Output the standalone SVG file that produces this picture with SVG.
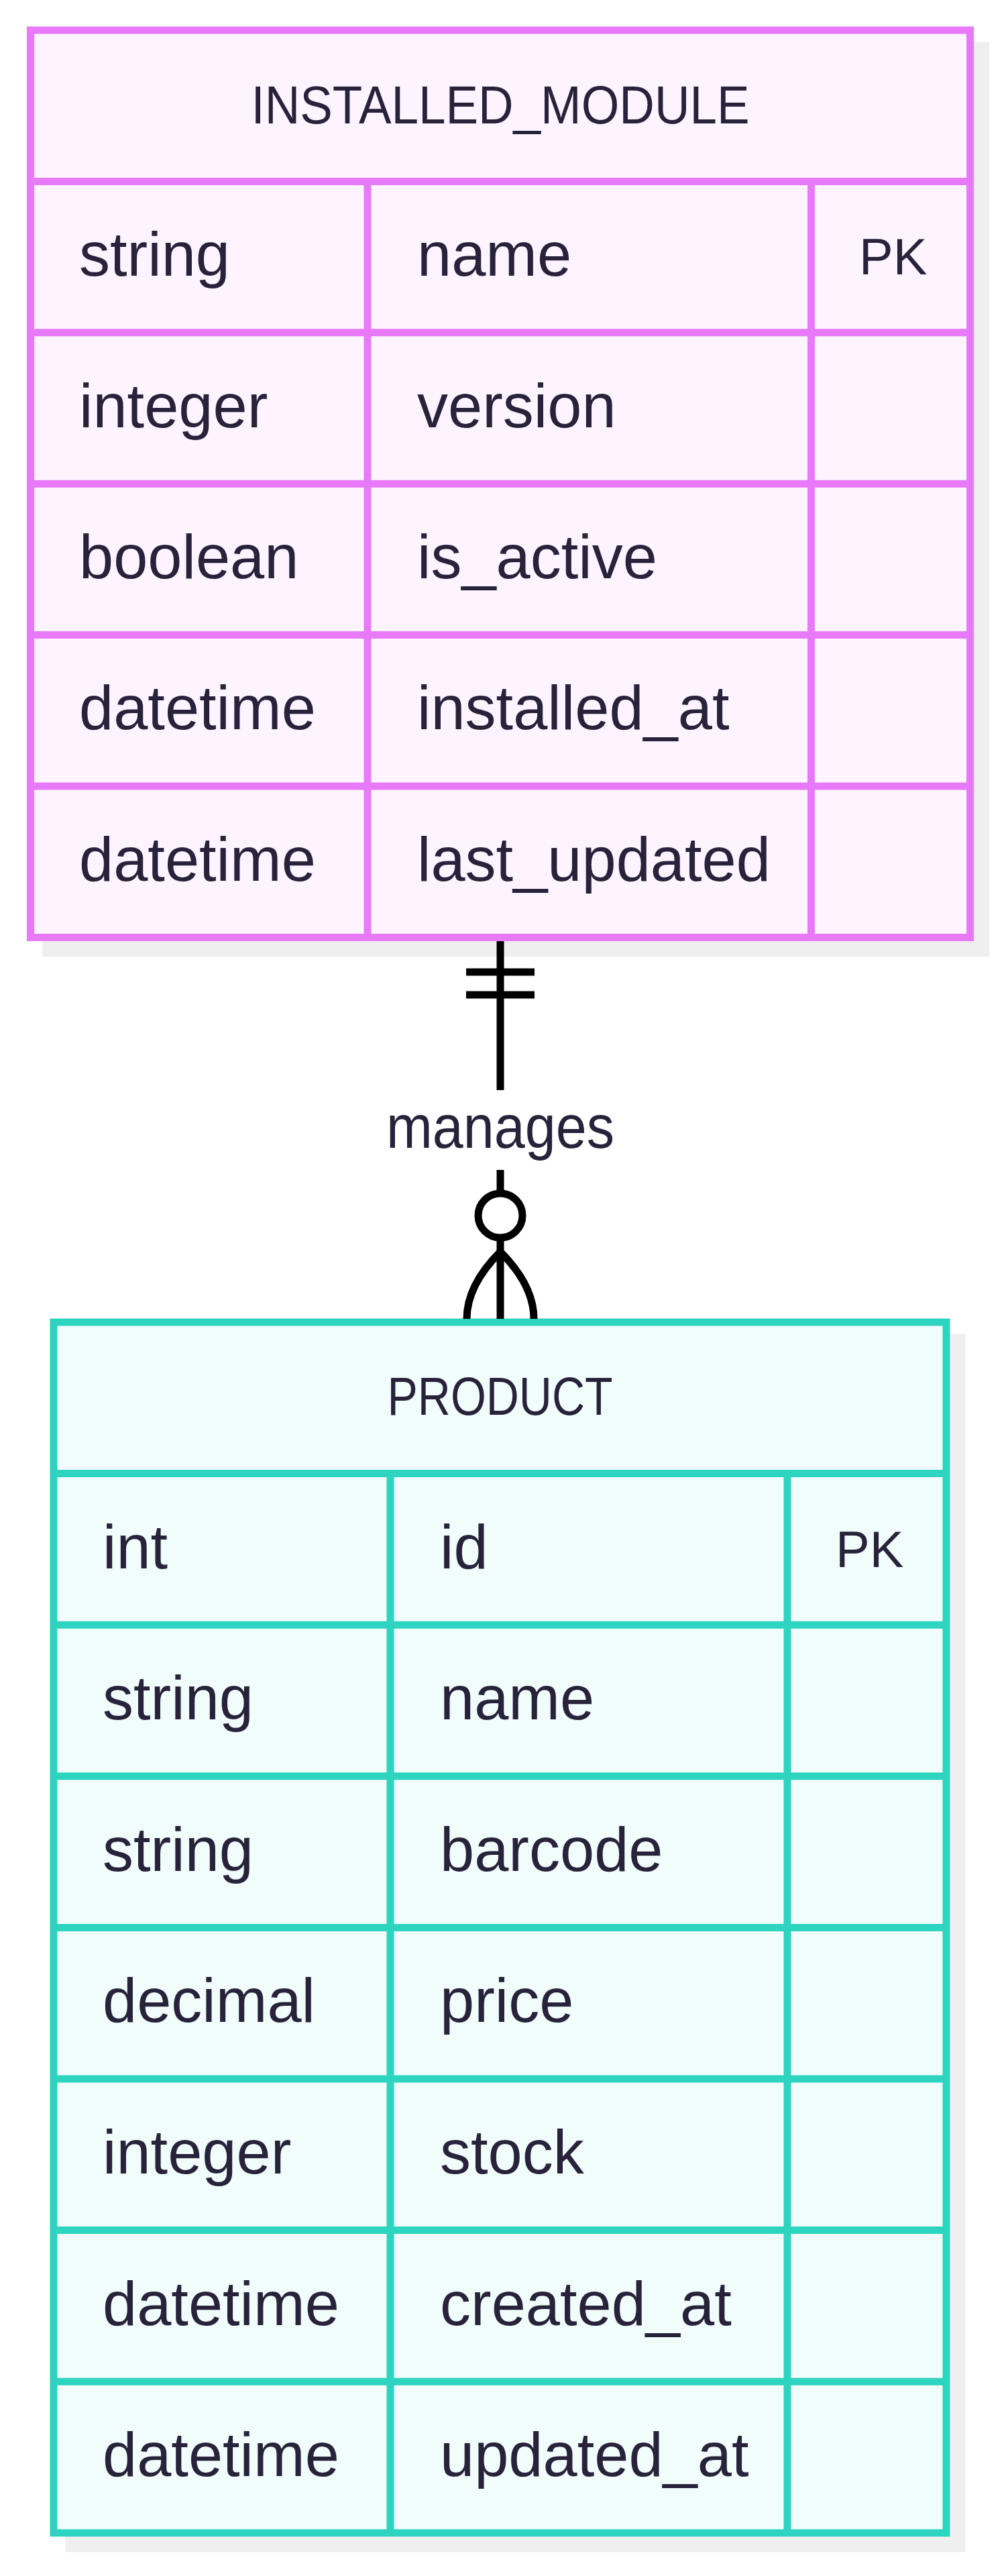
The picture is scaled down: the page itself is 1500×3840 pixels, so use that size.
<svg xmlns="http://www.w3.org/2000/svg" width="1500" height="3840" viewBox="0 0 1500 3840">
<style>
.shadow{fill:#EFEFEF;stroke:#EFEFEF;stroke-width:11}
.m-box{fill:#FDF4FF;stroke:#E879F9;stroke-width:11}
.m-line{stroke:#E879F9;stroke-width:11;fill:none}
.p-box{fill:#F0FDFA;stroke:#2DD4BF;stroke-width:11}
.p-line{stroke:#2DD4BF;stroke-width:11;fill:none}
.hdr{font-family:"Liberation Sans",Arial,sans-serif;font-size:80px;fill:#28233B;text-anchor:middle}
.txt{font-family:"Liberation Sans",Arial,sans-serif;font-size:92px;fill:#28233B}
.key{font-family:"Liberation Sans",Arial,sans-serif;font-size:76px;fill:#28233B}
.lbl{font-family:"Liberation Sans",Arial,sans-serif;font-size:90px;fill:#28233B;text-anchor:middle}
.conn{stroke:#000;stroke-width:11;fill:none}
</style>
<rect width="1500" height="3840" fill="#FFFFFF"/>
<g id="INSTALLED_MODULE">
<rect class="shadow" x="68.5" y="68" width="1401" height="1352.4"/>
<rect class="m-box" x="45.5" y="45" width="1401" height="1352.4"/>
<path class="m-line" d="M45.5 270.4H1446.5M45.5 495.8H1446.5M45.5 721.2H1446.5M45.5 946.6H1446.5M45.5 1172H1446.5M548 270.4V1397.4M1209.5 270.4V1397.4"/>
<text class="hdr" x="746" y="184" textLength="743" lengthAdjust="spacingAndGlyphs">INSTALLED_MODULE</text>
<text class="txt" x="118" y="411">string</text>
<text class="txt" x="622" y="411">name</text>
<text class="key" x="1281" y="409">PK</text>
<text class="txt" x="118" y="636.5">integer</text>
<text class="txt" x="622" y="636.5">version</text>
<text class="txt" x="118" y="862">boolean</text>
<text class="txt" x="622" y="862">is_active</text>
<text class="txt" x="118" y="1087">datetime</text>
<text class="txt" x="622" y="1087">installed_at</text>
<text class="txt" x="118" y="1313">datetime</text>
<text class="txt" x="622" y="1313">last_updated</text>
</g>
<g id="PRODUCT">
<rect class="shadow" x="103" y="1994" width="1331" height="1804.8"/>
<rect class="p-box" x="80" y="1971" width="1331" height="1804.8"/>
<path class="p-line" d="M80 2196.6H1411M80 2422.2H1411M80 2647.8H1411M80 2873.4H1411M80 3099H1411M80 3324.6H1411M80 3550.2H1411M582 2196.6V3775.8M1174 2196.6V3775.8"/>
<text class="hdr" x="745.5" y="2109" textLength="336" lengthAdjust="spacingAndGlyphs">PRODUCT</text>
<text class="txt" x="153" y="2337.5">int</text>
<text class="txt" x="656" y="2337.5">id</text>
<text class="key" x="1246" y="2335.5">PK</text>
<text class="txt" x="153" y="2563">string</text>
<text class="txt" x="656" y="2563">name</text>
<text class="txt" x="153" y="2788.5">string</text>
<text class="txt" x="656" y="2788.5">barcode</text>
<text class="txt" x="153" y="3014">decimal</text>
<text class="txt" x="656" y="3014">price</text>
<text class="txt" x="153" y="3240">integer</text>
<text class="txt" x="656" y="3240">stock</text>
<text class="txt" x="153" y="3465.5">datetime</text>
<text class="txt" x="656" y="3465.5">created_at</text>
<text class="txt" x="153" y="3691">datetime</text>
<text class="txt" x="656" y="3691">updated_at</text>
</g>
<g id="connectors">
<path class="conn" d="M746 1403V1625M695 1449H797M695 1483H797"/>
<path class="conn" d="M746 1744V1779M746 1845V1966M746 1866Q696 1916 696 1966M746 1866Q796 1916 796 1966"/>
<circle class="conn" cx="746" cy="1812" r="33"/>
<text class="lbl" x="746" y="1711" textLength="340" lengthAdjust="spacingAndGlyphs">manages</text>
</g>
</svg>
